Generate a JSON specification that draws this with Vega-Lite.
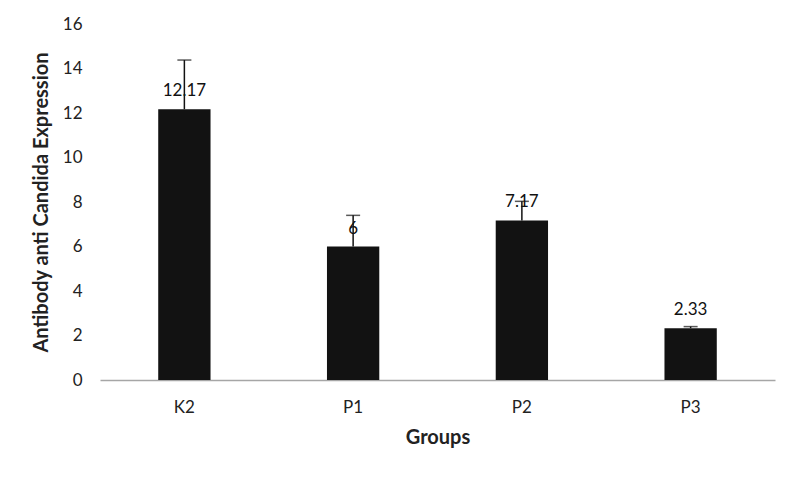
{
  "$schema": "https://vega.github.io/schema/vega-lite/v6.json",
  "width": 675,
  "height": 356,
  "autosize": "none",
  "padding": {"left": 100, "top": 24, "right": 25, "bottom": 100},
  "background": "white",
  "config": {
    "view": {"stroke": null},
    "font": "Lato",
    "axis": {"labelFont": "Lato", "titleFont": "Lato", "labelColor": "#222", "titleColor": "#222"}
  },
  "data": {
    "values": [
      {"group": "K2", "value": 12.17, "upper": 14.38, "label": "12.17"},
      {"group": "P1", "value": 6, "upper": 7.4, "label": "6"},
      {"group": "P2", "value": 7.17, "upper": 8.03, "label": "7.17"},
      {"group": "P3", "value": 2.33, "upper": 2.4, "label": "2.33"}
    ]
  },
  "encoding": {
    "x": {
      "field": "group", "type": "nominal", "sort": null,
      "scale": {"paddingInner": 0.69, "paddingOuter": 0.345},
      "axis": {
        "title": "Groups", "titleFontSize": 20, "titleFontWeight": "bold", "titlePadding": 12,
        "labelAngle": 0, "labelFontSize": 17, "labelPadding": 19,
        "ticks": false, "domainColor": "#a6a6a6", "domainWidth": 1.5, "grid": false
      }
    }
  },
  "layer": [
    {
      "mark": {"type": "bar", "color": "#121212"},
      "encoding": {
        "y": {
          "field": "value", "type": "quantitative",
          "scale": {"domain": [0, 16]},
          "axis": {
            "title": "Antibody anti Candida Expression", "titleFontSize": 20, "titleFontWeight": "bold", "titlePadding": 11,
            "values": [0, 2, 4, 6, 8, 10, 12, 14, 16], "labelFontSize": 17, "labelPadding": 18,
            "domain": false, "ticks": false, "grid": false
          }
        }
      }
    },
    {
      "mark": {"type": "rule", "color": "#121212", "strokeWidth": 1.5},
      "encoding": {
        "y": {"field": "value", "type": "quantitative"},
        "y2": {"field": "upper"}
      }
    },
    {
      "mark": {"type": "tick", "color": "#121212", "orient": "horizontal", "size": 14, "thickness": 1.5},
      "encoding": {
        "y": {"field": "upper", "type": "quantitative"}
      }
    },
    {
      "mark": {"type": "text", "baseline": "bottom", "dy": -9, "fontSize": 17, "color": "#111", "font": "Lato"},
      "encoding": {
        "y": {"field": "value", "type": "quantitative"},
        "text": {"field": "label"}
      }
    }
  ]
}
